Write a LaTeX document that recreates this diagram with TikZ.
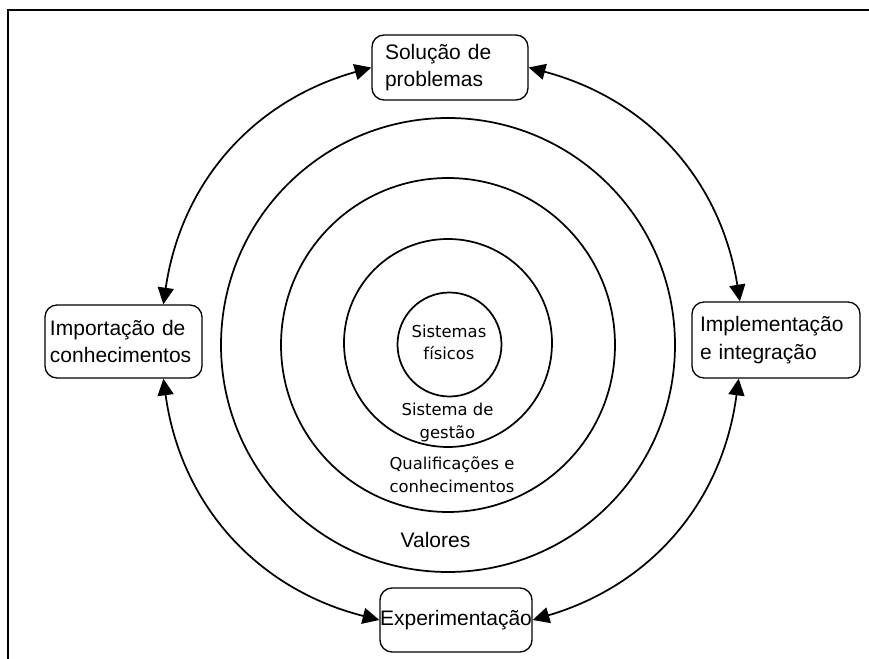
\documentclass[tikz,border=0pt]{standalone}
\usepackage{fontspec}
\setmainfont{Liberation Sans}
\newfontfamily\ringfont{DejaVu Sans}
\usetikzlibrary{arrows.meta}
\begin{document}
\begin{tikzpicture}[x=0.75pt,y=-0.75pt,
  stage/.style={draw, line width=1pt, rounded corners=9pt, inner ysep=0pt,
    font=\fontsize{15.75}{20.5}\selectfont},
  ring/.style={draw, circle, line width=1.3pt, inner sep=0pt},
  cycle/.style={line width=1.3pt,
    {Triangle[length=12.5pt,width=12pt]}-{Triangle[length=12.5pt,width=12pt]}},
  ringtext/.style={font=\ringfont\fontsize{12.3}{17}\selectfont, align=center, inner sep=0pt},
  outertext/.style={font=\fontsize{15.75}{20.5}\selectfont, inner sep=0pt}
]
\useasboundingbox (0,0) rectangle (869,659);

% frame
\draw[line width=2.2pt] (869,10) -- (8,10) -- (8,659);

% concentric rings
\node[ring, minimum size=340.5pt] (r4) at (448,345) {};
\node[ring, minimum size=250.5pt] (r3) at (448,345) {};
\node[ring, minimum size=156pt]   (r2) at (448,343) {};
\node[ring, minimum size=78pt]    (r1) at (449.5,344.5) {};

% ring labels
\node[ringtext] (t1) at (449,342.5) {Sistemas\\físicos};
\node[ringtext] (t2) at (447.5,422.5) {Sistema de\\gestão};
\node[ringtext] (t3) at (452,474.5) {Qualificações e\\conhecimentos};
\node[outertext] (t4) at (435.5,539.5) {Valores};

% the four stages
\node[stage, align=left, minimum width=117pt, minimum height=48.75pt,
      inner xsep=9.75pt, text width=97.5pt] (sol) at (450,67.5)
      {Solução de\\problemas};
\node[stage, align=left, minimum width=117.75pt, minimum height=54.75pt,
      inner xsep=3.75pt, text width=110.25pt] (imp) at (123.5,341.5)
      {Importação de\\conhecimentos};
\node[stage, align=left, minimum width=126pt, minimum height=57pt,
      inner xsep=6pt, text width=114pt] (impl) at (776,340)
      {Implementação\\e integração};
\node[stage, align=center, minimum width=114pt, minimum height=48pt,
      inner xsep=0pt] (exp) at (456,620) {Experimentação};

% cycle connectors
\draw[cycle] (sol.west) to[bend right=33] (imp.43);
\draw[cycle] (imp.-43) to[bend right=34] (exp.west);
\draw[cycle] (exp.east) to[bend right=33] (impl.226.5);
\draw[cycle] (impl.133.5) to[bend right=33] (sol.east);
\end{tikzpicture}
\end{document}
